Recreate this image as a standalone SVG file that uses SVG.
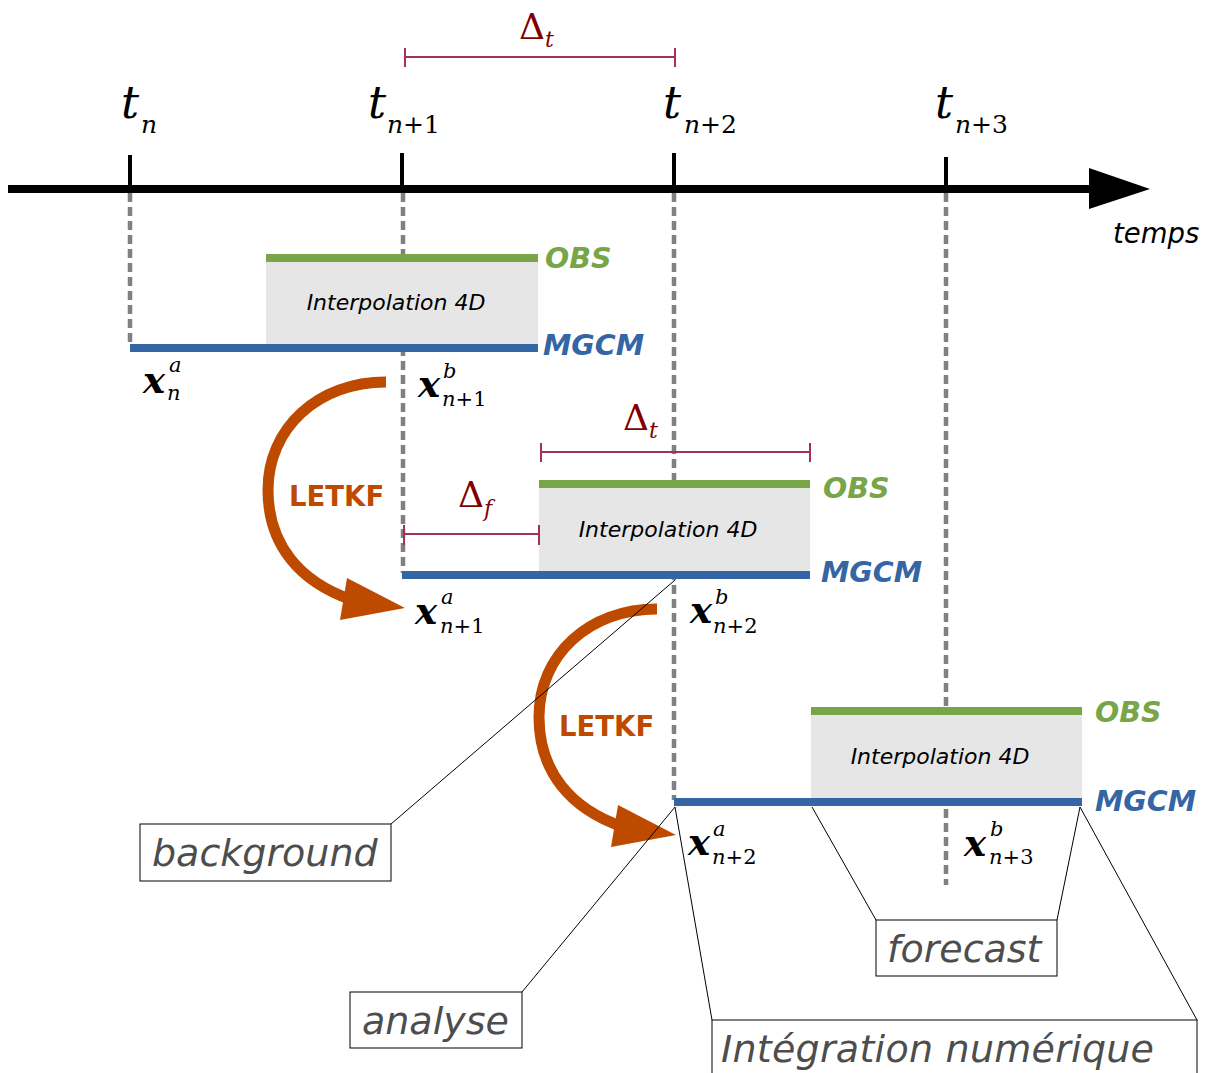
<svg xmlns="http://www.w3.org/2000/svg" width="1211" height="1073" viewBox="0 0 1211 1073">
<style>
.axis{stroke:#000;stroke-width:8;fill:none}
.tick{stroke:#000;stroke-width:4}
.dash{stroke:#808080;stroke-width:4.5;stroke-dasharray:9,5;fill:none}
.obs{stroke:#77a547;stroke-width:8}
.mgcm{stroke:#3465a4;stroke-width:8}
.box{fill:#e6e6e6}
.brk{stroke:#a3305a;stroke-width:2;fill:none}
.math{font-family:"DejaVu Serif",serif;font-style:italic}
.tl{font-size:45px;fill:#000}
.tsub{font-size:25px}
.up{font-style:normal}
.delta{font-family:"DejaVu Serif",serif;fill:#800000;font-size:36px}
.dsub{font-size:22px;font-style:italic}
.xv{font-family:"DejaVu Serif",serif;font-style:italic;font-weight:bold;font-size:37px;fill:#000}
.xs{font-family:"DejaVu Serif",serif;font-style:italic;font-weight:normal;font-size:21px;fill:#000}
.lab-obs{font-family:"DejaVu Sans",sans-serif;font-weight:bold;font-style:italic;font-size:28.5px;fill:#77a547}
.lab-mgcm{font-family:"DejaVu Sans",sans-serif;font-weight:bold;font-style:italic;font-size:28.5px;fill:#3465a4}
.interp{font-family:"DejaVu Sans",sans-serif;font-style:italic;font-size:22px;fill:#000}
.letkf{font-family:"DejaVu Sans",sans-serif;font-weight:bold;font-size:27.5px;fill:#be4a00}
.arc{stroke:#be4a00;stroke-width:11;fill:none}
.ah{fill:#be4a00}
.call{fill:#fff;stroke:#000;stroke-width:1}
.callt{font-family:"DejaVu Sans",sans-serif;font-style:italic;font-size:38px;fill:#4d4d4d}
.cl{stroke:#000;stroke-width:1;fill:none}
</style>

<g id="guides">
<line class="dash" x1="130" y1="193" x2="130" y2="344"/>
<line class="dash" x1="403" y1="193" x2="403" y2="573"/>
<line class="dash" x1="674" y1="193" x2="674" y2="800"/>
<line class="dash" x1="946" y1="193" x2="946" y2="885"/>
</g>

<g id="timeline">
<line class="axis" x1="8" y1="189" x2="1095" y2="189"/>
<polygon points="1089,168 1150,189 1089,209" fill="#000"/>
<line class="tick" x1="130" y1="155" x2="130" y2="189"/>
<line class="tick" x1="402" y1="153" x2="402" y2="189"/>
<line class="tick" x1="674" y1="153" x2="674" y2="189"/>
<line class="tick" x1="946" y1="157" x2="946" y2="189"/>
<text class="math tl" x="121" y="118">t</text>
<text class="math tsub" x="141" y="133">n</text>
<text class="math tl" x="368" y="118">t</text>
<text class="math tsub" x="387" y="133">n<tspan class="up">+1</tspan></text>
<text class="math tl" x="663" y="118">t</text>
<text class="math tsub" x="684" y="133">n<tspan class="up">+2</tspan></text>
<text class="math tl" x="935" y="118">t</text>
<text class="math tsub" x="955" y="133">n<tspan class="up">+3</tspan></text>
<text x="1113" y="243" font-family="DejaVu Sans,sans-serif" font-style="italic" font-size="27.5" fill="#000">temps</text>
</g>

<g id="delta-t-top">
<path class="brk" d="M405,57 H675 M405,48 V67 M675,48 V67"/>
<text class="delta" x="519" y="39">Δ<tspan class="dsub" dy="8">t</tspan></text>
</g>

<g id="block1">
<rect class="box" x="266" y="258" width="272" height="90"/>
<line class="obs" x1="266" y1="258" x2="538" y2="258"/>
<line class="mgcm" x1="130" y1="348" x2="538" y2="348"/>
<text class="lab-obs" x="545" y="268">OBS</text>
<text class="lab-mgcm" x="543" y="355">MGCM</text>
<text class="interp" x="396" y="310" text-anchor="middle">Interpolation 4D</text>
</g>

<g id="block2">
<rect class="box" x="539" y="484" width="271" height="91"/>
<line class="obs" x1="539" y1="484" x2="810" y2="484"/>
<line class="mgcm" x1="402" y1="575" x2="810" y2="575"/>
<text class="lab-obs" x="823" y="498">OBS</text>
<text class="lab-mgcm" x="821" y="582">MGCM</text>
<text class="interp" x="668" y="537" text-anchor="middle">Interpolation 4D</text>
<path class="brk" d="M541,452 H810 M541,443 V462 M810,443 V462"/>
<text class="delta" x="623" y="430">Δ<tspan class="dsub" dy="8">t</tspan></text>
<path class="brk" d="M404,534 H539 M404,525 V545 M539,525 V545"/>
<text class="delta" x="458" y="507">Δ<tspan class="dsub" dy="9">f</tspan></text>
</g>

<g id="block3">
<rect class="box" x="811" y="711" width="271" height="91"/>
<line class="obs" x1="811" y1="711" x2="1082" y2="711"/>
<line class="mgcm" x1="674" y1="802" x2="1082" y2="802"/>
<text class="lab-obs" x="1095" y="722">OBS</text>
<text class="lab-mgcm" x="1095" y="811">MGCM</text>
<text class="interp" x="940" y="764" text-anchor="middle">Interpolation 4D</text>
</g>

<g id="states">
<text class="xv" x="143" y="393">x<tspan class="xs" x="169" y="372">a</tspan><tspan class="xs" x="167" y="400">n</tspan></text>
<text class="xv" x="418" y="397">x<tspan class="xs" x="443" y="378">b</tspan><tspan class="xs" x="442" y="406">n<tspan class="up">+1</tspan></tspan></text>
<text class="xv" x="415" y="624">x<tspan class="xs" x="441" y="604">a</tspan><tspan class="xs" x="440" y="633">n<tspan class="up">+1</tspan></tspan></text>
<text class="xv" x="690" y="623">x<tspan class="xs" x="715" y="604">b</tspan><tspan class="xs" x="713" y="633">n<tspan class="up">+2</tspan></tspan></text>
<text class="xv" x="688" y="855">x<tspan class="xs" x="713" y="836">a</tspan><tspan class="xs" x="712" y="864">n<tspan class="up">+2</tspan></tspan></text>
<text class="xv" x="964" y="856">x<tspan class="xs" x="990" y="836">b</tspan><tspan class="xs" x="989" y="864">n<tspan class="up">+3</tspan></tspan></text>
</g>

<g id="connectors">
<path class="arc" d="M386,382 C318,382 268,428 268,490 C268,545 300,582 352,600"/>
<polygon class="ah" points="347,578 405,608 340,620"/>
<path class="arc" d="M657,609 C589,609 539,655 539,717 C539,772 571,809 623,827"/>
<polygon class="ah" points="618,805 676,835 611,847"/>
<line class="cl" x1="391" y1="824" x2="675" y2="580"/>
<line class="cl" x1="522" y1="992" x2="675" y2="807"/>
<line class="cl" x1="712" y1="1020" x2="675" y2="807"/>
<line class="cl" x1="1197" y1="1020" x2="1080" y2="807"/>
<line class="cl" x1="876" y1="920" x2="812" y2="807"/>
<line class="cl" x1="1057" y1="920" x2="1080" y2="807"/>
</g>

<g id="letkf1"><text class="letkf" x="289" y="506">LETKF</text></g>
<g id="letkf2"><text class="letkf" x="559" y="736">LETKF</text></g>

<g id="background-label">
<rect class="call" x="140" y="824" width="251" height="57"/>
<text class="callt" x="152" y="866">background</text>
</g>
<g id="analyse-label">
<rect class="call" x="350" y="992" width="172" height="56"/>
<text class="callt" x="362" y="1034">analyse</text>
</g>
<g id="forecast-label">
<rect class="call" x="876" y="920" width="181" height="56"/>
<text class="callt" x="887" y="962">forecast</text>
</g>
<g id="integration-label">
<rect class="call" x="712" y="1020" width="485" height="70"/>
<text class="callt" x="721" y="1062" textLength="433" lengthAdjust="spacing">Intégration numérique</text>
</g>
</svg>
